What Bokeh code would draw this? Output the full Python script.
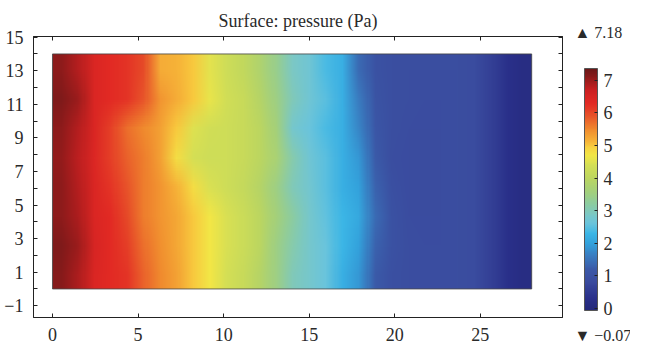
import base64
import struct
import zlib
import numpy as np
from bokeh.plotting import figure
from bokeh.models import (LinearColorMapper, ColorBar, FixedTicker, LinearAxis, Range1d)
from bokeh.embed import file_html
from bokeh.resources import INLINE

# ---- data ----
x_nodes = list(range(29))            # x position (m), 0..28
y_nodes = [0, 2, 4, 6, 8, 10, 12, 14]  # y position (m)

p_y0 = [7.15, 6.9, 6.45, 6.3, 6.2, 5.8, 5.5, 5.3, 5.0, 4.7, 4.4, 4.2, 3.9, 3.5, 3.0, 2.8, 2.6, 2.2, 1.9, 1.2, 0.95, 0.9, 0.88, 0.88, 0.9, 0.85, 0.6, 0.3, 0.15]
p_y2 = [7.2, 7.0, 6.5, 6.3, 6.1, 5.7, 5.45, 5.25, 5.0, 4.7, 4.45, 4.25, 4.0, 3.5, 3.1, 2.8, 2.6, 2.3, 2.0, 1.3, 1.0, 0.9, 0.88, 0.88, 0.9, 0.85, 0.6, 0.3, 0.15]
p_y4 = [7.1, 6.9, 6.45, 6.3, 6.0, 5.6, 5.4, 5.25, 5.0, 4.7, 4.45, 4.25, 4.0, 3.6, 3.2, 2.8, 2.55, 2.3, 2.1, 1.4, 1.0, 0.88, 0.86, 0.88, 0.9, 0.85, 0.6, 0.3, 0.15]
p_y6 = [7.1, 6.85, 6.45, 6.2, 5.9, 5.6, 5.4, 5.15, 4.8, 4.45, 4.3, 4.15, 3.9, 3.5, 3.0, 2.75, 2.5, 2.2, 2.0, 1.3, 0.95, 0.86, 0.85, 0.88, 0.9, 0.85, 0.6, 0.3, 0.15]
p_y8 = [7.05, 6.8, 6.4, 6.1, 5.8, 5.6, 5.3, 4.8, 4.4, 4.3, 4.3, 4.2, 4.0, 3.7, 3.1, 2.7, 2.5, 2.2, 1.9, 1.2, 0.9, 0.86, 0.85, 0.88, 0.9, 0.85, 0.6, 0.3, 0.15]
p_y10 = [7.1, 6.85, 6.45, 6.1, 5.7, 5.5, 5.3, 5.0, 4.5, 4.35, 4.3, 4.2, 4.0, 3.6, 2.8, 2.6, 2.4, 2.2, 1.7, 1.1, 0.92, 0.88, 0.86, 0.88, 0.9, 0.85, 0.6, 0.3, 0.15]
p_y12 = [7.2, 7.0, 6.45, 6.3, 6.2, 5.9, 5.4, 5.2, 5.0, 4.6, 4.35, 4.2, 3.9, 3.5, 3.0, 2.7, 2.5, 2.2, 1.6, 1.05, 0.92, 0.9, 0.88, 0.88, 0.9, 0.85, 0.6, 0.3, 0.15]
p_y14 = [7.1, 6.85, 6.45, 6.3, 6.2, 6.0, 5.2, 5.15, 5.0, 4.55, 4.3, 4.1, 3.8, 3.4, 2.9, 2.7, 2.4, 2.2, 1.4, 1.0, 0.92, 0.9, 0.9, 0.9, 0.9, 0.85, 0.6, 0.3, 0.15]

p_min = -0.07
p_max = 7.18
title_text = "Surface: pressure (Pa)"
y_tick_values = [-1, 1, 3, 5, 7, 9, 11, 13, 15]
y_minor_values = [-2, 0, 2, 4, 6, 8, 10, 12, 14]
x_tick_values = [0, 5, 10, 15, 20, 25]
cbar_ticks = [0, 1, 2, 3, 4, 5, 6, 7]

rows_bottom_up = [p_y0, p_y2, p_y4, p_y6, p_y8, p_y10, p_y12, p_y14]

# ---- colour scale (style) ----
stops = [(-0.06, "#24287a"), (0.3, "#2a308a"), (0.8, "#3a4a9e"), (1.2, "#3b5aa8"),
         (1.6, "#3a7cc0"), (2.0, "#33a2dc"), (2.3, "#3cb6e6"), (2.6, "#6ac4dc"),
         (2.9, "#7cc8c4"), (3.2, "#8ccca0"), (3.6, "#a4d07a"), (4.0, "#bcd660"),
         (4.4, "#d4df55"), (4.7, "#f2e646"), (4.95, "#f8d040"), (5.15, "#f6b238"),
         (5.5, "#f08a2e"), (5.9, "#e8542a"), (6.3, "#e22a24"), (6.7, "#cc2022"),
         (7.0, "#9a1c1c"), (7.36, "#6a1818")]
lo, hi = -0.06, 7.36

def hex2rgb(h):
    return [int(h[i:i + 2], 16) for i in (1, 3, 5)]

sv = np.array([s[0] for s in stops])
sc = np.array([hex2rgb(s[1]) for s in stops], dtype=float)

def colour_of(v):
    return tuple(int(round(float(np.interp(v, sv, sc[:, k])))) for k in range(3))

palette = ["#%02x%02x%02x" % colour_of(t) for t in np.linspace(lo, hi, 256)]
mapper = LinearColorMapper(palette=palette, low=lo, high=hi)

# the surface: one pixel per data node, shown smoothly by the browser
def png_url(rows_top_down):
    h = len(rows_top_down)
    w = len(rows_top_down[0])
    raw = b"".join(b"\x00" + bytes([c for v in row for c in colour_of(v)]) for row in rows_top_down)
    def chunk(t, d):
        return struct.pack(">I", len(d)) + t + d + struct.pack(">I", zlib.crc32(t + d) & 0xffffffff)
    png = (b"\x89PNG\r\n\x1a\n" + chunk(b"IHDR", struct.pack(">IIBBBBB", w, h, 8, 2, 0, 0, 0))
           + chunk(b"IDAT", zlib.compress(raw)) + chunk(b"IEND", b""))
    return "data:image/png;base64," + base64.b64encode(png).decode()

surface_url = png_url(rows_bottom_up[::-1])

FONT = "Liberation Serif"
TXT = "#2a2a2a"

p = figure(width=630, height=345, x_range=Range1d(-1.11, 29.8), y_range=Range1d(-1.7, 15.04),
           output_backend="svg", toolbar_location=None,
           min_border_left=33, min_border_right=68, min_border_top=36, min_border_bottom=28,
           title=title_text)

p.title.align = "center"
p.title.text_font = FONT
p.title.text_font_size = "18px"
p.title.text_font_style = "normal"
p.title.text_color = TXT
p.title.standoff = 12

x0, x1 = min(x_nodes), max(x_nodes)
y0, y1 = min(y_nodes), max(y_nodes)
p.image_url(url=[surface_url], x=x0, y=y1, w=x1 - x0, h=y1 - y0, anchor="top_left")
p.rect(x=[(x0 + x1) / 2], y=[(y0 + y1) / 2], width=[x1 - x0], height=[y1 - y0],
       fill_alpha=0, line_color="#444444", line_width=0.8)

p.grid.visible = False
p.outline_line_color = "#222222"
p.background_fill_color = "white"

def style_axis(ax, labels=True):
    ax.axis_line_color = "#222222"
    ax.major_tick_in = 4
    ax.major_tick_out = 0
    ax.minor_tick_in = 4
    ax.minor_tick_out = 0
    ax.major_tick_line_color = "#222222"
    ax.minor_tick_line_color = "#222222"
    ax.major_label_text_font = FONT
    ax.major_label_text_font_size = "18px"
    ax.major_label_text_color = TXT if labels else None

p.yaxis.ticker = FixedTicker(ticks=y_tick_values, minor_ticks=y_minor_values)
p.xaxis.ticker = FixedTicker(ticks=x_tick_values, minor_ticks=[])
p.yaxis.major_label_overrides = {-1: "\u22121"}
style_axis(p.yaxis[0])
style_axis(p.xaxis[0])
p.yaxis.major_label_standoff = 10
p.xaxis.major_label_standoff = 10

ax_r = LinearAxis(ticker=FixedTicker(ticks=y_tick_values, minor_ticks=y_minor_values))
style_axis(ax_r, labels=False)
ax_r.major_label_text_font_size = "1px"
ax_r.major_label_standoff = 0
p.add_layout(ax_r, "right")
ax_t = LinearAxis(ticker=FixedTicker(ticks=x_tick_values, minor_ticks=[]))
style_axis(ax_t, labels=False)
ax_t.major_label_text_font_size = "1px"
ax_t.major_label_standoff = 0
p.add_layout(ax_t, "above")

cb = ColorBar(color_mapper=mapper, ticker=FixedTicker(ticks=cbar_ticks),
              width=13, height=242, location=(551, 7), padding=0, margin=0,
              major_label_text_font=FONT, major_label_text_font_size="18px",
              major_label_text_color=TXT, label_standoff=6,
              major_tick_in=3, major_tick_out=0, major_tick_line_color="#222222",
              bar_line_color="#555555", border_line_color=None,
              background_fill_color=None)
p.add_layout(cb)

# max / min markers of the colour range, beside the bar
range_mapper = LinearColorMapper(palette=["#ffffff"], low=0, high=1)
cb_range = ColorBar(color_mapper=range_mapper, ticker=FixedTicker(ticks=[0, 1]),
                    major_label_overrides={0: "\u25bc \u2212%.2f" % abs(p_min),
                                           1: "\u25b2 %.2f" % p_max},
                    width=2, height=303, location=(535, -18), padding=0, margin=0,
                    scale_alpha=0, bar_line_color=None, border_line_color=None,
                    background_fill_color=None, major_tick_line_color=None,
                    major_label_text_font=FONT, major_label_text_font_size="16px",
                    major_label_text_color=TXT, label_standoff=4)
p.add_layout(cb_range)

open("out.html", "w").write(file_html(p, INLINE))
